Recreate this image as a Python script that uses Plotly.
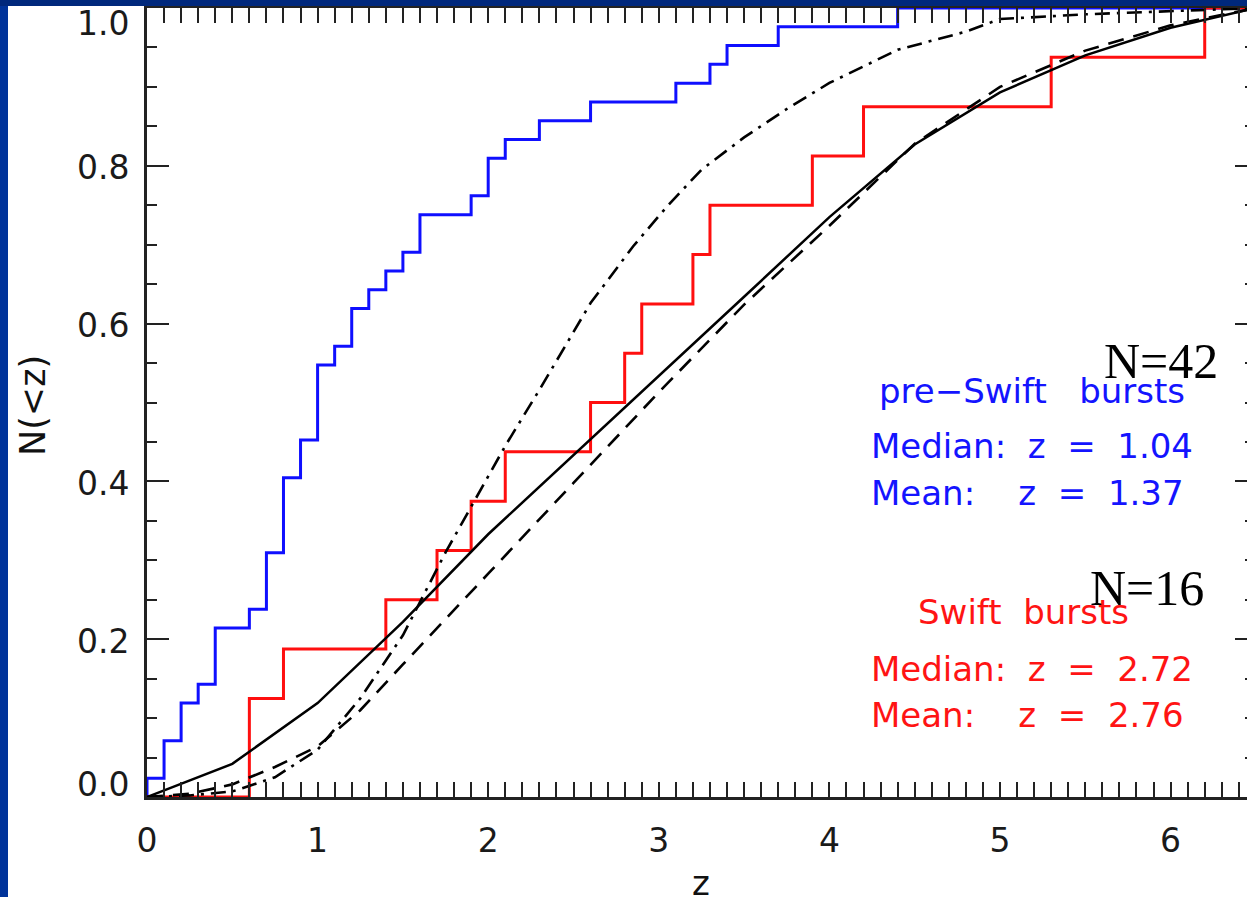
import numpy as np
import plotly.graph_objects as go

# ---- pre-Swift bursts (N=42): redshift bin and number of bursts in it ----
pre_swift_z = [0.0, 0.1, 0.2, 0.3, 0.4, 0.6, 0.7, 0.8, 0.9, 1.0, 1.1, 1.2, 1.3,
               1.4, 1.5, 1.6, 1.9, 2.0, 2.1, 2.3, 2.6, 3.1, 3.3, 3.4, 3.7, 4.4]
pre_swift_n = [1, 2, 2, 1, 3, 1, 3, 4, 2, 4, 1, 2, 1,
               1, 1, 2, 1, 2, 1, 1, 1, 1, 1, 1, 1, 1]

# ---- Swift bursts (N=16) ----
swift_z = [0.6, 0.8, 1.4, 1.7, 1.9, 2.1, 2.6, 2.8, 2.9, 3.2, 3.3, 3.9, 4.2, 5.3, 6.2]
swift_n = [2, 1, 1, 1, 1, 1, 1, 1, 1, 1, 1, 1, 1, 1, 1]

# ---- model cumulative distributions ----
solid_z = [0, 0.5, 1.0, 1.5, 2.0, 2.5, 3.0, 3.5, 4.0, 4.5, 5.0, 5.5, 6.0, 6.5]
solid_n = [0, 0.042, 0.119, 0.222, 0.333, 0.433, 0.533, 0.634, 0.735, 0.827,
           0.893, 0.94, 0.975, 1.0]

dashed_z = [0, 0.25, 0.5, 0.75, 1.0, 1.25, 1.5, 1.75, 2.0, 2.5, 3.0, 3.5,
            4.0, 4.5, 5.0, 5.5, 6.0, 6.5]
dashed_n = [0, 0.004, 0.016, 0.038, 0.064, 0.11, 0.168, 0.226, 0.283, 0.398,
            0.513, 0.624, 0.724, 0.828, 0.9, 0.946, 0.978, 1.0]

dashdot_z = [0, 0.25, 0.5, 0.75, 1.0, 1.25, 1.5, 1.75, 2.1, 2.3, 2.6, 2.85,
             3.05, 3.25, 3.5, 3.75, 4.0, 4.4, 4.8, 5.0, 5.5, 6.0, 6.5]
dashdot_n = [0, 0.002, 0.007, 0.025, 0.06, 0.125, 0.205, 0.31, 0.445, 0.516,
             0.626, 0.698, 0.749, 0.795, 0.836, 0.872, 0.905, 0.947, 0.97,
             0.986, 0.992, 0.996, 1.0]

x_ticks = [0, 1, 2, 3, 4, 5, 6]
y_ticks = [0.0, 0.2, 0.4, 0.6, 0.8, 1.0]
y_tick_text = ["0.0", "0.2", "0.4", "0.6", "0.8", "1.0"]

Z_MAX = 6.5
AX = "#222222"
SANS = "DejaVu Sans"
NB = "\u00a0"


def cumulative_steps(z, n):
    total = float(sum(n))
    frac = list(np.cumsum(n) / total)
    xs = [0.0] + list(z) + [Z_MAX]
    ys = [0.0] + frac + [1.0]
    return xs, ys


bx, by = cumulative_steps(pre_swift_z, pre_swift_n)
rx, ry = cumulative_steps(swift_z, swift_n)

fig = go.Figure()
fig.add_trace(go.Scatter(x=bx, y=by, mode="lines", line_shape="hv",
                         line=dict(color="#0f0fff", width=3), hoverinfo="skip"))
fig.add_trace(go.Scatter(x=rx, y=ry, mode="lines", line_shape="hv",
                         line=dict(color="#ff0f0f", width=3), hoverinfo="skip"))
fig.add_trace(go.Scatter(x=dashdot_z, y=dashdot_n, mode="lines", yaxis="y2",
                         line=dict(color="black", width=2.6, dash="15px,7px,3px,7px"),
                         hoverinfo="skip"))
fig.add_trace(go.Scatter(x=dashed_z, y=dashed_n, mode="lines", yaxis="y2",
                         line=dict(color="black", width=2.6, dash="16px,10px"),
                         hoverinfo="skip"))
fig.add_trace(go.Scatter(x=solid_z, y=solid_n, mode="lines", yaxis="y2",
                         line=dict(color="black", width=2.5), hoverinfo="skip"))

W, H = 1247, 897
ML, MT, MB = 147, 8, 100
PW, PH = W - ML, H - MT - MB


def px_to_paper_x(px):
    return (px - ML) / PW


def px_to_paper_y(py):
    return (H - MB - py) / PH


# dark blue slide frame along the left and top edges
shapes = [
    dict(type="rect", xref="paper", yref="paper", layer="above",
         x0=px_to_paper_x(0), x1=px_to_paper_x(8),
         y0=px_to_paper_y(H), y1=px_to_paper_y(0),
         fillcolor="#00339a", line=dict(width=0)),
    dict(type="rect", xref="paper", yref="paper", layer="above",
         x0=px_to_paper_x(0), x1=px_to_paper_x(W),
         y0=px_to_paper_y(6), y1=px_to_paper_y(0),
         fillcolor="#00287c", line=dict(width=0)),
]

blue, red = "#1414ff", "#ff1414"
txt = dict(family=SANS, size=34)
tick_font = dict(family=SANS, size=33, color="#1a1a1a")

annotations = [
    dict(x=px_to_paper_x(33), y=px_to_paper_y(406), xref="paper", yref="paper",
         xanchor="center", yanchor="middle",
         text="N(&lt;z)", textangle=-90, showarrow=False,
         font=dict(family=SANS, size=35, color="#111")),
    dict(x=Z_MAX / 2, y=px_to_paper_y(861), xref="x", yref="paper",
         xanchor="center", yanchor="top",
         text="z", showarrow=False, font=dict(family=SANS, size=34, color="#111")),
]

# y tick labels; the end labels are pulled inside the frame
end_label_shift = {0.0: 13, 1.0: -15}
for v, t in zip(y_ticks, y_tick_text):
    annotations.append(dict(
        x=px_to_paper_x(131), y=v, xref="paper", yref="y",
        xanchor="right", yanchor="middle", yshift=end_label_shift.get(v, -2),
        text=t, showarrow=False, font=tick_font))

labels = [
    dict(x=5.596, y=px_to_paper_y(361), text="N=42",
         font=dict(family="Liberation Serif", size=50, color="black")),
    dict(x=5.514, y=px_to_paper_y(588), text="N=16",
         font=dict(family="Liberation Serif", size=50, color="black")),
    dict(x=4.277, y=px_to_paper_y(391), text=f"pre\u2212Swift{NB*3}bursts",
         font=dict(txt, color=blue)),
    dict(x=4.23, y=px_to_paper_y(446), text=f"Median:{NB}{NB}z{NB}{NB}={NB}{NB}1.04",
         font=dict(txt, color=blue)),
    dict(x=4.23, y=px_to_paper_y(493), text=f"Mean:{NB*4}z{NB}{NB}={NB}{NB}1.37",
         font=dict(txt, color=blue)),
    dict(x=4.506, y=px_to_paper_y(612), text=f"Swift{NB*2}bursts",
         font=dict(txt, color=red)),
    dict(x=4.23, y=px_to_paper_y(669), text=f"Median:{NB}{NB}z{NB}{NB}={NB}{NB}2.72",
         font=dict(txt, color=red)),
    dict(x=4.23, y=px_to_paper_y(715), text=f"Mean:{NB*4}z{NB}{NB}={NB}{NB}2.76",
         font=dict(txt, color=red)),
]
for a in labels:
    a.update(xref="x", yref="paper", xanchor="left", yanchor="middle", showarrow=False)
annotations += labels

fig.update_layout(
    width=W, height=H,
    margin=dict(l=ML, r=0, t=MT, b=MB, pad=0),
    paper_bgcolor="white", plot_bgcolor="white",
    showlegend=False,
    shapes=shapes,
    annotations=annotations,
    xaxis=dict(
        range=[0, (W - ML) / 170.6], tickmode="array", tickvals=x_ticks,
        ticktext=[str(v) for v in x_ticks],
        ticks="inside", ticklen=15, tickwidth=2.4, tickcolor=AX,
        showline=True, linecolor=AX, linewidth=2.8, mirror="allticks",
        showgrid=False, zeroline=False,
        minor=dict(tickmode="linear", tick0=0, dtick=0.1, ticks="inside",
                   ticklen=8, tickwidth=2, tickcolor=AX, showgrid=False),
        tickfont=tick_font,
        ticklabelstandoff=12,
    ),
    yaxis=dict(
        range=[0, 1], tickmode="array", tickvals=y_ticks, showticklabels=False,
        ticks="inside", ticklen=22, tickwidth=2.4, tickcolor=AX,
        showline=True, linecolor=AX, linewidth=2.8, mirror=False,
        showgrid=False, zeroline=False,
        minor=dict(tickmode="linear", tick0=0, dtick=0.05, ticks="inside",
                   ticklen=10, tickwidth=2, tickcolor=AX, showgrid=False),
    ),
    yaxis2=dict(
        overlaying="y", side="right", anchor="x", range=[0, 1],
        tickmode="array", tickvals=y_ticks, showticklabels=False,
        ticks="inside", ticklen=12, tickwidth=2.4, tickcolor=AX,
        showline=False, showgrid=False, zeroline=False,
        minor=dict(tickmode="linear", tick0=0, dtick=0.05, ticks="inside",
                   ticklen=2, tickwidth=2, tickcolor=AX, showgrid=False),
    ),
)

fig.write_html("out.html")
